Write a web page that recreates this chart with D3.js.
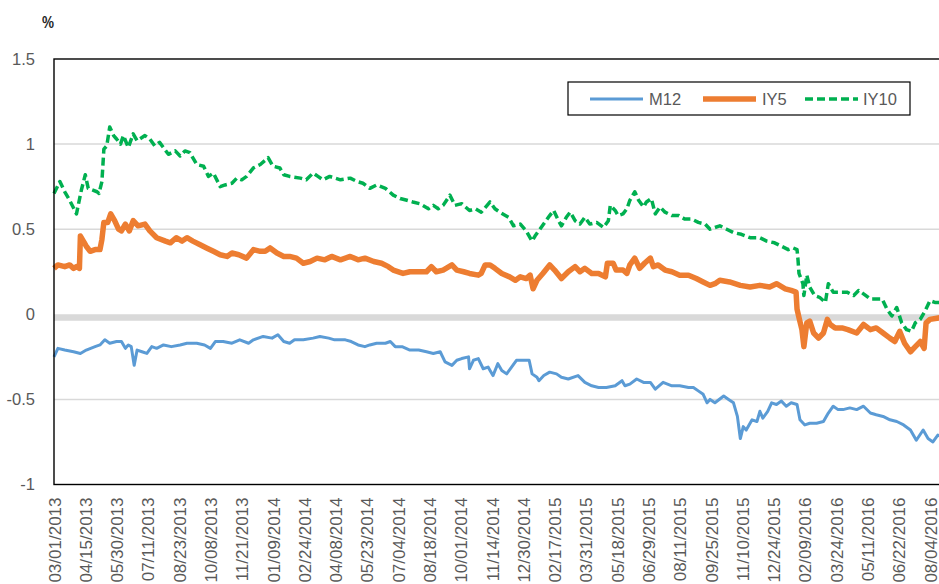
<!DOCTYPE html>
<html>
<head>
<meta charset="utf-8">
<script src="https://cdn.jsdelivr.net/npm/d3@7"></script>
<style>
  html, body { margin: 0; padding: 0; background: #fff; }
  svg { display: block; }
  text { font-family: "Liberation Sans", Arial, sans-serif; }
</style>
</head>
<body>
<svg id="chart" width="939" height="584"></svg>
<script>
// ---------- DATA ----------
const xTickLabels = [
  "03/01/2013","04/15/2013","05/30/2013","07/11/2013","08/23/2013","10/08/2013","11/21/2013",
  "01/09/2014","02/24/2014","04/08/2014","05/23/2014","07/04/2014","08/18/2014","10/01/2014",
  "11/14/2014","12/30/2014","02/17/2015","03/31/2015","05/18/2015","06/29/2015","08/11/2015",
  "09/25/2015","11/10/2015","12/24/2015","02/09/2016","03/24/2016","05/11/2016","06/22/2016",
  "08/04/2016"
];
const tickEvery = 32; // trading days between category labels
const yTicks = [-1, -0.5, 0, 0.5, 1, 1.5];
const seriesNames = ["M12", "IY5", "IY10"];

// [trading-day index, value in %]
const m12 = [
  [0,-0.25],[4,-0.20],[11,-0.21],[20,-0.22],[27,-0.23],[33,-0.21],[42,-0.19],[47,-0.18],[52,-0.15],
  [57,-0.17],[64,-0.16],[69,-0.16],[73,-0.20],[76,-0.18],[79,-0.19],[82,-0.30],[85,-0.21],[90,-0.22],
  [95,-0.23],[100,-0.19],[105,-0.20],[112,-0.18],[120,-0.19],[129,-0.18],[136,-0.17],[146,-0.17],
  [154,-0.18],[160,-0.20],[165,-0.16],[173,-0.16],[182,-0.17],[190,-0.15],[199,-0.17],[204,-0.15],
  [214,-0.13],[223,-0.14],[229,-0.12],[235,-0.16],[241,-0.17],[246,-0.15],[255,-0.15],[265,-0.14],
  [272,-0.13],[281,-0.14],[287,-0.15],[298,-0.15],[304,-0.16],[311,-0.18],[318,-0.19],[323,-0.18],
  [330,-0.17],[339,-0.17],[344,-0.16],[349,-0.19],[356,-0.19],[364,-0.21],[373,-0.21],[381,-0.22],
  [388,-0.23],[395,-0.22],[400,-0.28],[407,-0.30],[412,-0.27],[417,-0.26],[424,-0.25],[425,-0.32],
  [429,-0.27],[434,-0.26],[439,-0.32],[444,-0.31],[446,-0.33],[449,-0.36],[454,-0.29],[458,-0.33],
  [463,-0.35],[468,-0.31],[473,-0.27],[480,-0.27],[486,-0.27],[489,-0.35],[494,-0.37],[496,-0.39],
  [501,-0.36],[507,-0.34],[514,-0.35],[519,-0.37],[526,-0.38],[536,-0.36],[543,-0.40],[550,-0.42],
  [557,-0.43],[565,-0.43],[574,-0.42],[581,-0.39],[584,-0.42],[589,-0.41],[596,-0.38],[603,-0.40],
  [610,-0.40],[615,-0.44],[623,-0.40],[632,-0.42],[640,-0.42],[649,-0.43],[654,-0.43],[659,-0.45],
  [664,-0.47],[668,-0.52],[671,-0.50],[676,-0.52],[685,-0.48],[690,-0.50],[695,-0.52],[699,-0.60],
  [702,-0.73],[705,-0.66],[708,-0.68],[714,-0.62],[719,-0.63],[722,-0.57],[725,-0.61],[730,-0.57],
  [734,-0.52],[739,-0.53],[744,-0.51],[749,-0.54],[754,-0.52],[760,-0.53],[763,-0.62],[768,-0.65],
  [773,-0.64],[780,-0.64],[787,-0.63],[792,-0.58],[797,-0.54],[802,-0.56],[807,-0.56],[814,-0.55],
  [821,-0.56],[828,-0.54],[835,-0.58],[841,-0.59],[848,-0.60],[855,-0.62],[862,-0.63],[869,-0.65],
  [876,-0.68],[882,-0.74],[889,-0.68],[894,-0.73],[899,-0.75],[904,-0.71],[908,-0.72]
];
const iy5 = [
  [0,0.27],[4,0.29],[11,0.28],[16,0.29],[20,0.27],[23,0.28],[26,0.27],[27,0.46],[30,0.43],[33,0.40],
  [37,0.37],[42,0.38],[47,0.38],[49,0.44],[51,0.54],[55,0.54],[58,0.59],[62,0.55],[66,0.50],[69,0.49],
  [73,0.53],[77,0.49],[81,0.55],[86,0.52],[93,0.53],[98,0.49],[105,0.45],[114,0.43],[119,0.42],
  [125,0.45],[131,0.43],[136,0.45],[142,0.43],[149,0.41],[156,0.39],[163,0.37],[170,0.35],[177,0.34],
  [182,0.36],[189,0.35],[197,0.33],[204,0.38],[211,0.37],[216,0.37],[221,0.39],[228,0.36],[235,0.34],
  [241,0.34],[248,0.33],[255,0.30],[262,0.31],[269,0.33],[277,0.32],[284,0.34],[293,0.32],[303,0.34],
  [311,0.32],[318,0.33],[327,0.31],[335,0.30],[342,0.28],[347,0.26],[357,0.24],[364,0.25],[374,0.25],
  [381,0.25],[386,0.28],[391,0.25],[398,0.26],[407,0.29],[412,0.26],[419,0.25],[425,0.24],[434,0.23],
  [437,0.24],[441,0.29],[446,0.29],[451,0.27],[458,0.24],[466,0.22],[472,0.20],[477,0.22],[483,0.21],
  [487,0.23],[490,0.15],[494,0.20],[500,0.24],[507,0.29],[512,0.26],[519,0.21],[526,0.25],[533,0.28],
  [538,0.25],[543,0.27],[550,0.24],[557,0.24],[564,0.22],[566,0.30],[572,0.30],[575,0.26],[582,0.26],
  [586,0.24],[589,0.29],[594,0.33],[599,0.27],[604,0.30],[610,0.33],[613,0.28],[618,0.29],[625,0.26],
  [632,0.25],[640,0.23],[649,0.23],[657,0.21],[664,0.19],[671,0.17],[676,0.18],[681,0.20],[691,0.19],
  [702,0.17],[712,0.16],[722,0.17],[732,0.16],[739,0.18],[748,0.15],[754,0.14],[759,0.13],[760,0.03],
  [762,-0.02],[765,-0.09],[767,-0.19],[770,-0.05],[773,-0.04],[777,-0.11],[782,-0.14],[787,-0.11],
  [791,-0.03],[794,-0.06],[799,-0.08],[806,-0.08],[812,-0.09],[821,-0.11],[828,-0.06],[835,-0.09],
  [841,-0.08],[848,-0.11],[855,-0.14],[860,-0.16],[865,-0.10],[870,-0.17],[876,-0.22],[881,-0.19],
  [886,-0.16],[890,-0.20],[892,-0.05],[896,-0.03],[906,-0.02],[908,-0.03]
];
const iy10 = [
  [0,0.71],[6,0.78],[11,0.72],[16,0.67],[23,0.59],[28,0.73],[32,0.82],[35,0.74],[44,0.72],[46,0.71],
  [49,0.78],[51,0.97],[54,0.99],[57,1.10],[61,1.05],[64,1.03],[68,1.00],[71,1.05],[76,0.98],[81,1.06],
  [85,1.02],[93,1.05],[98,1.03],[103,0.99],[108,1.01],[117,0.94],[124,0.96],[129,0.93],[134,0.96],
  [139,0.95],[146,0.88],[153,0.87],[158,0.81],[163,0.83],[170,0.75],[175,0.76],[182,0.77],[187,0.80],
  [192,0.79],[197,0.81],[204,0.86],[211,0.88],[219,0.92],[224,0.87],[231,0.86],[235,0.82],[241,0.81],
  [252,0.80],[258,0.79],[265,0.83],[270,0.81],[275,0.79],[282,0.81],[293,0.79],[303,0.80],[310,0.78],
  [316,0.77],[323,0.74],[330,0.76],[339,0.74],[347,0.70],[354,0.68],[361,0.67],[367,0.66],[374,0.65],
  [383,0.62],[388,0.64],[393,0.62],[398,0.64],[405,0.70],[410,0.64],[417,0.65],[425,0.61],[431,0.62],
  [437,0.60],[446,0.66],[451,0.62],[456,0.60],[465,0.57],[470,0.52],[477,0.53],[483,0.49],[489,0.43],
  [492,0.46],[497,0.50],[502,0.54],[507,0.58],[511,0.61],[516,0.55],[519,0.52],[524,0.57],[528,0.60],
  [533,0.55],[538,0.53],[543,0.57],[548,0.53],[555,0.54],[562,0.51],[567,0.55],[569,0.64],[574,0.61],
  [577,0.58],[582,0.59],[586,0.62],[589,0.67],[594,0.72],[598,0.67],[603,0.63],[606,0.66],[611,0.68],
  [615,0.59],[620,0.63],[625,0.60],[632,0.58],[639,0.58],[645,0.56],[652,0.56],[659,0.54],[666,0.53],
  [671,0.50],[676,0.51],[681,0.52],[688,0.50],[695,0.48],[703,0.47],[712,0.45],[722,0.45],[729,0.43],
  [737,0.42],[744,0.40],[751,0.38],[756,0.39],[760,0.38],[761,0.32],[762,0.24],[766,0.18],[767,0.11],
  [770,0.23],[773,0.16],[778,0.11],[783,0.10],[789,0.07],[792,0.18],[797,0.13],[804,0.13],[811,0.13],
  [818,0.11],[823,0.14],[828,0.12],[835,0.09],[841,0.09],[847,0.09],[852,0.03],[857,-0.01],[862,0.04],
  [867,-0.05],[872,-0.09],[877,-0.10],[881,-0.05],[886,-0.03],[891,0.02],[896,0.08],[901,0.07],[906,0.07],[908,0.08]
];

// ---------- LAYOUT ----------
const W = 939, H = 584;
const plot = { left: 54, top: 59, bottom: 484.5, right: 1000 };
const svg = d3.select("#chart");

const x = d3.scaleLinear()
  .domain([0, tickEvery * (xTickLabels.length - 1)])
  .range([54, 930]);
const y = d3.scaleLinear().domain([-1, 1.5]).range([plot.bottom, plot.top]);

const gridColor = "#d9d9d9";
const textColor = "#595959";

// gridlines
svg.append("g").selectAll("line")
  .data(yTicks.filter(v => v !== 0 && v !== 1.5 && v !== -1))
  .join("line")
  .attr("x1", plot.left).attr("x2", W)
  .attr("y1", d => y(d)).attr("y2", d => y(d))
  .attr("stroke", gridColor).attr("stroke-width", 1.5);

// zero band
svg.append("line")
  .attr("x1", plot.left).attr("x2", W)
  .attr("y1", y(0) + 3.2).attr("y2", y(0) + 3.2)
  .attr("stroke", gridColor).attr("stroke-width", 6.5);

// Y axis labels
const yAxis = d3.axisLeft(y).tickValues(yTicks).tickSize(0).tickPadding(19)
  .tickFormat(d => String(d));
const gy = svg.append("g").attr("transform", `translate(${plot.left},0)`).call(yAxis);
gy.select(".domain").remove();
gy.selectAll("text").attr("fill", textColor).style("font-size", "16.5px")
  .style("font-family", '"Liberation Sans", Arial, sans-serif');

// X axis labels
const xAxis = d3.axisBottom(x)
  .tickValues(d3.range(xTickLabels.length).map(k => k * tickEvery))
  .tickSize(0)
  .tickFormat((d, i) => xTickLabels[i]);
const gx = svg.append("g").attr("transform", `translate(0,${plot.bottom})`).call(xAxis);
gx.select(".domain").remove();
gx.selectAll("text")
  .attr("transform", "rotate(-90)")
  .attr("text-anchor", "end")
  .attr("x", -13).attr("y", 0).attr("dy", "0.36em")
  .attr("fill", textColor).style("font-size", "17px")
  .style("font-family", '"Liberation Sans", Arial, sans-serif');

// series
const line = d3.line().x(d => x(d[0])).y(d => y(d[1]));
const styles = [
  { data: m12, color: "#5B9BD5", width: 3, dash: null },
  { data: iy5, color: "#ED7D31", width: 5.5, dash: null },
  { data: iy10, color: "#00B050", width: 3.5, dash: "8,4" }
];
svg.append("g").selectAll("path").data(styles).join("path")
  .attr("d", d => line(d.data))
  .attr("fill", "none")
  .attr("stroke", d => d.color)
  .attr("stroke-width", d => d.width)
  .attr("stroke-linejoin", "round")
  .attr("stroke-dasharray", d => d.dash);

// plot border
svg.append("rect")
  .attr("x", plot.left).attr("y", plot.top)
  .attr("width", plot.right - plot.left).attr("height", plot.bottom - plot.top)
  .attr("fill", "none").attr("stroke", "#000").attr("stroke-width", 1.4);

// unit label
svg.append("text").attr("x", 42).attr("y", 28).text("%")
  .attr("fill", "#262626").style("font-size", "17px").style("font-weight", "bold")
  .attr("textLength", 12).attr("lengthAdjust", "spacingAndGlyphs");

// legend
const lg = svg.append("g");
lg.append("rect").attr("x", 568).attr("y", 82).attr("width", 342).attr("height", 33)
  .attr("fill", "#fff").attr("stroke", "#000").attr("stroke-width", 1.2);
const legendItems = [
  { lx: 590, tx: 649 }, { lx: 703, tx: 762 }, { lx: 805, tx: 863 }
];
legendItems.forEach((it, i) => {
  const s = styles[i];
  lg.append("line").attr("x1", it.lx).attr("x2", it.lx + 53)
    .attr("y1", 99).attr("y2", 99)
    .attr("stroke", s.color).attr("stroke-width", s.width)
    .attr("stroke-dasharray", s.dash);
  lg.append("text").attr("x", it.tx).attr("y", 99).attr("dy", "0.36em")
    .text(seriesNames[i]).attr("fill", textColor).style("font-size", "16.5px");
});
</script>
</body>
</html>
